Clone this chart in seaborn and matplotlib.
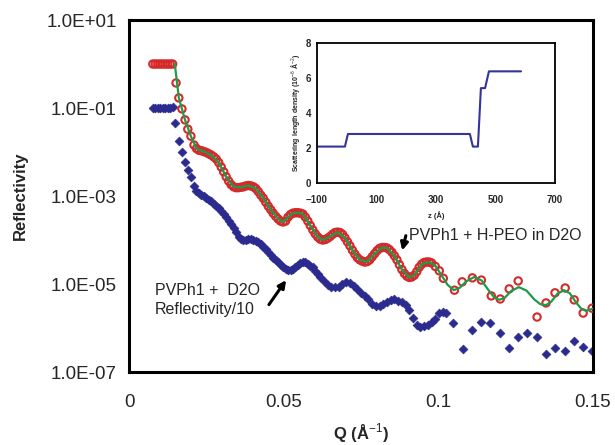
import numpy as np
import pandas as pd
import matplotlib
matplotlib.use("Agg")
import matplotlib.pyplot as plt
import matplotlib.ticker as mticker
import seaborn as sns

# PVPh1 + H-PEO in D2O (open red circles), Q in 1/A, log10(R)
q_red = [0.0077, 0.0085, 0.0093, 0.0101, 0.0109, 0.0117, 0.0125, 0.0133, 0.0141,
         0.0152, 0.0161, 0.0171, 0.0181, 0.0190, 0.0200, 0.0210, 0.0218, 0.0226, 0.0234,
         0.0242, 0.0250, 0.0258, 0.0266, 0.0274, 0.0282, 0.0290, 0.0298, 0.0306, 0.0314,
         0.0322, 0.0330, 0.0338, 0.0346, 0.0354, 0.0362, 0.0370, 0.0378, 0.0386, 0.0394,
         0.0402, 0.0410, 0.0418, 0.0426, 0.0434, 0.0442, 0.0450, 0.0458, 0.0466, 0.0474,
         0.0482, 0.0490, 0.0498, 0.0506, 0.0514, 0.0522, 0.0530, 0.0538, 0.0546, 0.0554,
         0.0562, 0.0570, 0.0578, 0.0586, 0.0594, 0.0602, 0.0610, 0.0618, 0.0626, 0.0634,
         0.0642, 0.0650, 0.0658, 0.0666, 0.0674, 0.0682, 0.0690, 0.0698, 0.0706, 0.0714,
         0.0722, 0.0730, 0.0738, 0.0746, 0.0754, 0.0762, 0.0770, 0.0778, 0.0786, 0.0794,
         0.0802, 0.0810, 0.0818, 0.0826, 0.0834, 0.0842, 0.0850, 0.0858, 0.0866, 0.0874,
         0.0882, 0.0890, 0.0898, 0.0906, 0.0914, 0.0922, 0.0930, 0.0938, 0.0946, 0.0954,
         0.0962, 0.0970, 0.0978, 0.0990, 0.1003, 0.1016,
         0.1052, 0.1077, 0.1110, 0.1139, 0.1171, 0.1200, 0.1229, 0.1258, 0.1319, 0.1348,
         0.1377, 0.1410, 0.1439, 0.1468, 0.1497]
logr_red = [0.0, 0.0, 0.0, 0.0, 0.0, 0.0, 0.0, 0.0, 0.0,
            -0.43, -0.77, -1.02, -1.27, -1.48, -1.64, -1.84, -1.92, -1.96, -1.97,
            -1.99, -2.01, -2.04, -2.07, -2.11, -2.16, -2.24, -2.34, -2.45, -2.56,
            -2.66, -2.74, -2.79, -2.81, -2.81, -2.80, -2.79, -2.77, -2.76, -2.77,
            -2.79, -2.83, -2.90, -2.98, -3.05, -3.14, -3.23, -3.31, -3.39, -3.46,
            -3.52, -3.57, -3.59, -3.57, -3.48, -3.42, -3.39, -3.38, -3.38, -3.39,
            -3.41, -3.48, -3.57, -3.67, -3.77, -3.86, -3.93, -3.98, -4.00, -3.99,
            -3.96, -3.92, -3.87, -3.83, -3.82, -3.83, -3.87, -3.95, -4.04, -4.13,
            -4.23, -4.32, -4.40, -4.45, -4.48, -4.50, -4.49, -4.45, -4.38, -4.31,
            -4.24, -4.19, -4.17, -4.17, -4.18, -4.22, -4.28, -4.36, -4.45, -4.56,
            -4.67, -4.76, -4.82, -4.85, -4.84, -4.80, -4.72, -4.62, -4.55, -4.51,
            -4.50, -4.50, -4.52, -4.60, -4.70, -4.87,
            -5.14, -4.95, -4.86, -4.91, -5.27, -5.34, -5.11, -4.93, -5.75, -5.43,
            -5.20, -5.09, -5.36, -5.66, -5.55]

# model fit (green line)
q_fit = [0.0148, 0.0161, 0.0181, 0.0200, 0.0218, 0.0242, 0.0266, 0.0290, 0.0314,
         0.0338, 0.0362, 0.0386, 0.0410, 0.0434, 0.0458, 0.0482, 0.0498, 0.0514, 0.0530,
         0.0546, 0.0562, 0.0586, 0.0610, 0.0626, 0.0650, 0.0674, 0.0698, 0.0722, 0.0746,
         0.0770, 0.0794, 0.0818, 0.0834, 0.0858, 0.0882, 0.0906, 0.0922, 0.0946, 0.0970,
         0.0990, 0.1010, 0.1030, 0.1050, 0.1070, 0.1090, 0.1116, 0.1140, 0.1160, 0.1180,
         0.1197, 0.1215, 0.1235, 0.1260, 0.1285, 0.1310, 0.1330, 0.1348, 0.1365, 0.1385,
         0.1406, 0.1425, 0.1445, 0.1462, 0.1477, 0.1495, 0.1520]
logr_fit = [0.0, -0.77, -1.27, -1.64, -1.92, -1.99, -2.07, -2.24, -2.56,
            -2.79, -2.80, -2.76, -2.83, -3.05, -3.31, -3.52, -3.59, -3.48, -3.39,
            -3.38, -3.41, -3.67, -3.93, -4.00, -3.92, -3.82, -3.95, -4.23, -4.45,
            -4.49, -4.31, -4.17, -4.18, -4.36, -4.67, -4.85, -4.80, -4.55, -4.50,
            -4.58, -4.80, -5.02, -5.14, -5.08, -4.94, -4.84, -4.92, -5.12, -5.30,
            -5.36, -5.31, -5.16, -5.07, -5.15, -5.35, -5.46, -5.48, -5.40, -5.22,
            -5.14, -5.21, -5.42, -5.56, -5.61, -5.57, -5.48]

# PVPh1 + D2O, reflectivity/10 (blue diamonds)
q_blue = [0.0077, 0.0085, 0.0093, 0.0101, 0.0109, 0.0117, 0.0125, 0.0133, 0.0141,
          0.0148, 0.0161, 0.0171, 0.0181, 0.0190, 0.0200, 0.0210, 0.0218, 0.0226, 0.0234,
          0.0242, 0.0250, 0.0258, 0.0266, 0.0274, 0.0282, 0.0290, 0.0298, 0.0306, 0.0314,
          0.0322, 0.0330, 0.0338, 0.0346, 0.0354, 0.0362, 0.0370, 0.0378, 0.0386, 0.0394,
          0.0402, 0.0410, 0.0418, 0.0426, 0.0434, 0.0442, 0.0450, 0.0458, 0.0466, 0.0474,
          0.0482, 0.0490, 0.0498, 0.0506, 0.0514, 0.0522, 0.0530, 0.0538, 0.0546, 0.0554,
          0.0562, 0.0570, 0.0578, 0.0586, 0.0594, 0.0602, 0.0610, 0.0618, 0.0630, 0.0642,
          0.0654, 0.0666, 0.0678, 0.0690, 0.0702, 0.0714, 0.0726, 0.0738, 0.0750, 0.0762,
          0.0774, 0.0786, 0.0798, 0.0810, 0.0822, 0.0834, 0.0846, 0.0858, 0.0870, 0.0882,
          0.0894, 0.0906, 0.0918, 0.0930, 0.0942, 0.0954, 0.0966, 0.0978, 0.0990, 0.1003,
          0.1016, 0.1026,
          0.1048, 0.1081, 0.1110, 0.1139, 0.1168, 0.1200, 0.1229, 0.1258, 0.1287, 0.1319,
          0.1348, 0.1377, 0.1410, 0.1439, 0.1468, 0.1497]
logr_blue = [-1.0, -1.0, -1.0, -1.0, -1.0, -1.0, -0.99, -0.99, -0.98,
             -1.34, -1.75, -2.00, -2.23, -2.41, -2.57, -2.78, -2.88, -2.93, -2.97,
             -3.01, -3.04, -3.08, -3.12, -3.17, -3.22, -3.27, -3.33, -3.40, -3.48,
             -3.56, -3.64, -3.73, -3.82, -3.92, -3.98, -4.00, -3.99, -3.98, -3.98,
             -3.99, -4.02, -4.05, -4.09, -4.15, -4.21, -4.27, -4.34, -4.40, -4.46,
             -4.51, -4.56, -4.61, -4.65, -4.67, -4.68, -4.66, -4.61, -4.57, -4.53,
             -4.50, -4.51, -4.54, -4.58, -4.62, -4.70, -4.78, -4.85, -4.93, -5.03,
             -5.07, -5.07, -5.06, -5.01, -4.96, -4.98, -5.05, -5.12, -5.20, -5.27,
             -5.34, -5.45, -5.50, -5.49, -5.46, -5.41, -5.36, -5.35, -5.38, -5.41,
             -5.47, -5.59, -5.78, -5.93, -5.97, -5.96, -5.92, -5.87, -5.79, -5.66,
             -5.64, -5.66,
             -5.89, -6.48, -6.05, -5.86, -5.89, -6.11, -6.45, -6.20, -6.11, -6.20,
             -6.59, -6.45, -6.52, -6.30, -6.43, -6.52]

# inset: scattering length density profile
z_sld = [-100, -6, 4, 414, 424, 441, 451, 465, 478, 586]
sld = [2.08, 2.08, 2.8, 2.8, 2.08, 2.08, 5.42, 5.42, 6.38, 6.38]

ytick_vals = [1e1, 1e-1, 1e-3, 1e-5, 1e-7]
ytick_labels = ["1.0E+01", "1.0E-01", "1.0E-03", "1.0E-05", "1.0E-07"]
xtick_vals = [0, 0.05, 0.1, 0.15]
xtick_labels = ["0", "0.05", "0.1", "0.15"]

red = pd.DataFrame({"q": q_red, "r": np.power(10.0, logr_red)})
fit = pd.DataFrame({"q": q_fit, "r": np.power(10.0, logr_fit)})
blue = pd.DataFrame({"q": q_blue, "r": np.power(10.0, logr_blue)})
prof = pd.DataFrame({"z": z_sld, "sld": sld})

sns.set_style("white")
plt.rcParams["font.family"] = ["Liberation Sans", "DejaVu Sans"]
plt.rcParams["mathtext.fontset"] = "custom"
plt.rcParams["mathtext.rm"] = "Liberation Sans"
plt.rcParams["mathtext.bf"] = "Liberation Sans:bold"

fig = plt.figure(figsize=(6.15, 4.45), dpi=100)
ax = fig.add_axes([0.2098, 0.164, 0.7545, 0.791])

sns.scatterplot(data=blue, x="q", y="r", ax=ax, marker="D", s=20,
                color="#2b2b8f", edgecolor="#2b2b8f", linewidth=0.5, zorder=2)
sns.scatterplot(data=red, x="q", y="r", ax=ax, marker="o", s=28,
                facecolor="none", edgecolor="#d42a2a", linewidth=1.5, zorder=3)
sns.lineplot(data=fit, x="q", y="r", ax=ax, sort=False, estimator=None,
             color="#1f9a4a", linewidth=1.6, zorder=4)

ax.set_yscale("log")
ax.set_xlim(0, 0.15)
ax.set_ylim(1e-7, 10)
ax.yaxis.set_major_locator(mticker.FixedLocator(ytick_vals))
ax.yaxis.set_major_formatter(mticker.FixedFormatter(ytick_labels))
ax.yaxis.set_minor_locator(mticker.NullLocator())
ax.set_xticks(xtick_vals)
ax.set_xticklabels(xtick_labels)
ax.set_xticks([0.025, 0.075, 0.125], minor=True)
ax.tick_params(axis="x", which="both", direction="in", length=5, width=2,
               labelsize=13.5, pad=16, top=False)
ax.tick_params(axis="y", which="major", direction="out", length=5, width=2,
               labelsize=13.5, pad=4, right=False)
for sp in ax.spines.values():
    sp.set_linewidth(2.2)
    sp.set_color("black")
ax.set_xlabel("Q (Å$^{-1}$)", fontsize=12, fontweight="bold", labelpad=7)
ax.set_ylabel("Reflectivity", fontsize=12, fontweight="bold", labelpad=13)

ax.annotate("", xy=(0.0881, 10**-4.30), xytext=(0.0897, 10**-3.84),
            arrowprops=dict(arrowstyle="-|>", color="black", lw=2.2, mutation_scale=11))
ax.text(0.0906, 10**-3.89, "PVPh1 + H-PEO in D2O", fontsize=11.5,
        ha="left", va="center")
ax.annotate("", xy=(0.0513, 10**-4.86), xytext=(0.0447, 10**-5.52),
            arrowprops=dict(arrowstyle="-|>", color="black", lw=2.2, mutation_scale=11))
ax.text(0.0083, 10**-5.36, "PVPh1 +  D2O\nReflectivity/10", fontsize=11.5,
        ha="left", va="center", linespacing=1.3)

# inset
ins = fig.add_axes([0.5154, 0.5888, 0.387, 0.3146])
sns.lineplot(data=prof, x="z", y="sld", ax=ins, sort=False, estimator=None,
             color="#34349a", linewidth=1.5)
ins.set_xlim(-100, 700)
ins.set_ylim(0, 8)
ins.set_xticks([-100, 100, 300, 500, 700])
ins.set_yticks([0, 2, 4, 6, 8])
ins.tick_params(axis="x", direction="in", length=3, width=1.2, labelsize=7, pad=9)
ins.tick_params(axis="y", direction="out", length=2, width=1.2, labelsize=7, pad=2)
for lab in ins.get_xticklabels() + ins.get_yticklabels():
    lab.set_fontweight("bold")
for sp in ins.spines.values():
    sp.set_linewidth(1.3)
    sp.set_color("black")
ins.set_xlabel("z (Å)", fontsize=5.5, fontweight="bold", labelpad=4)
ins.set_ylabel("Scattering length density (10$^{-6}$ Å$^{-2}$)", fontsize=5,
               fontweight="bold", labelpad=3)

fig.savefig("out.png", dpi=100)
